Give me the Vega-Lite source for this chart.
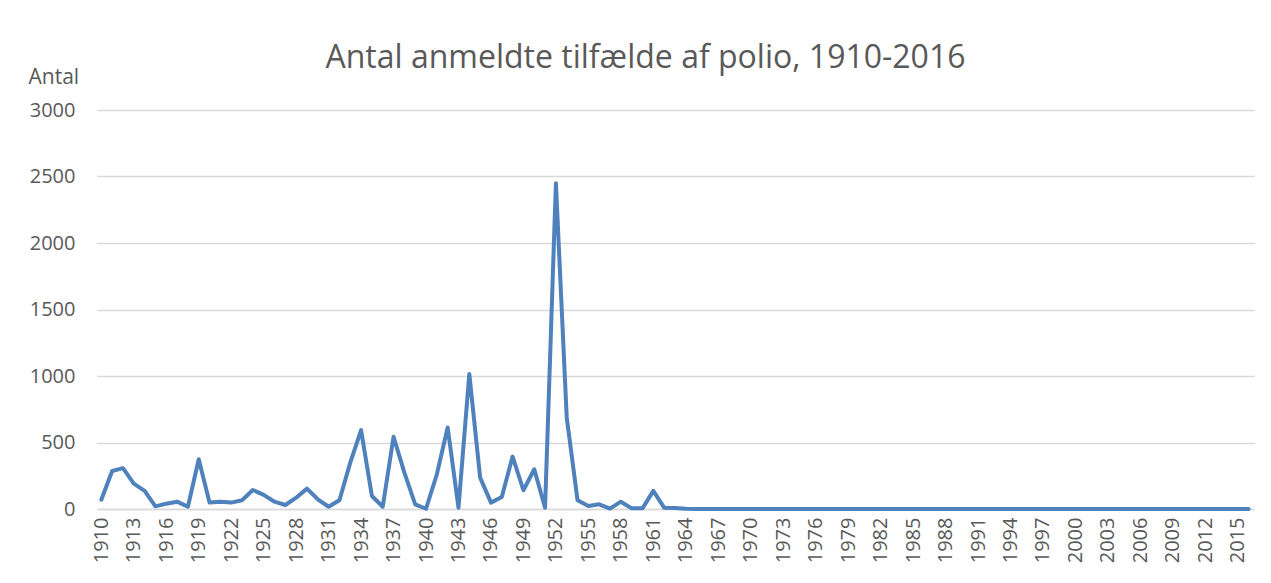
{
  "$schema": "https://vega.github.io/schema/vega-lite/v6.json",
  "autosize": {"type": "none"},
  "width": 1157,
  "height": 399,
  "padding": {"left": 97, "top": 110, "right": 17, "bottom": 74},
  "background": "white",
  "title": {
    "text": "Antal anmeldte tilfælde af polio, 1910-2016",
    "font": "Open Sans",
    "fontSize": 32,
    "fontWeight": "normal",
    "color": "#595959",
    "anchor": "middle",
    "dx": -30,
    "offset": -9
  },
  "config": {
    "view": {"stroke": null},
    "axis": {"labelFont": "Open Sans", "titleFont": "Open Sans", "labelColor": "#595959", "titleColor": "#595959"}
  },
  "data": {
    "values": [
      {"year": 1910, "cases": 70}, {"year": 1911, "cases": 286}, {"year": 1912, "cases": 307}, {"year": 1913, "cases": 191},
      {"year": 1914, "cases": 136}, {"year": 1915, "cases": 20}, {"year": 1916, "cases": 40}, {"year": 1917, "cases": 55},
      {"year": 1918, "cases": 17}, {"year": 1919, "cases": 374}, {"year": 1920, "cases": 48}, {"year": 1921, "cases": 55},
      {"year": 1922, "cases": 48}, {"year": 1923, "cases": 66}, {"year": 1924, "cases": 143}, {"year": 1925, "cases": 106},
      {"year": 1926, "cases": 55}, {"year": 1927, "cases": 30}, {"year": 1928, "cases": 85}, {"year": 1929, "cases": 153},
      {"year": 1930, "cases": 73}, {"year": 1931, "cases": 17}, {"year": 1932, "cases": 66}, {"year": 1933, "cases": 349},
      {"year": 1934, "cases": 593}, {"year": 1935, "cases": 98}, {"year": 1936, "cases": 17}, {"year": 1937, "cases": 543},
      {"year": 1938, "cases": 274}, {"year": 1939, "cases": 35}, {"year": 1940, "cases": 2}, {"year": 1941, "cases": 261},
      {"year": 1942, "cases": 613}, {"year": 1943, "cases": 10}, {"year": 1944, "cases": 1015}, {"year": 1945, "cases": 236},
      {"year": 1946, "cases": 48}, {"year": 1947, "cases": 90}, {"year": 1948, "cases": 394}, {"year": 1949, "cases": 141},
      {"year": 1950, "cases": 299}, {"year": 1951, "cases": 10}, {"year": 1952, "cases": 2450}, {"year": 1953, "cases": 688},
      {"year": 1954, "cases": 66}, {"year": 1955, "cases": 23}, {"year": 1956, "cases": 35}, {"year": 1957, "cases": 3},
      {"year": 1958, "cases": 55}, {"year": 1959, "cases": 5}, {"year": 1960, "cases": 5}, {"year": 1961, "cases": 136},
      {"year": 1962, "cases": 10}, {"year": 1963, "cases": 8}, {"year": 1964, "cases": 2}, {"year": 1965, "cases": 0},
      {"year": 1966, "cases": 0}, {"year": 1967, "cases": 0}, {"year": 1968, "cases": 0}, {"year": 1969, "cases": 0},
      {"year": 1970, "cases": 0}, {"year": 1971, "cases": 0}, {"year": 1972, "cases": 0}, {"year": 1973, "cases": 0},
      {"year": 1974, "cases": 0}, {"year": 1975, "cases": 0}, {"year": 1976, "cases": 0}, {"year": 1977, "cases": 0},
      {"year": 1978, "cases": 0}, {"year": 1979, "cases": 0}, {"year": 1980, "cases": 0}, {"year": 1981, "cases": 0},
      {"year": 1982, "cases": 0}, {"year": 1983, "cases": 0}, {"year": 1984, "cases": 0}, {"year": 1985, "cases": 0},
      {"year": 1986, "cases": 0}, {"year": 1987, "cases": 0}, {"year": 1988, "cases": 0}, {"year": 1989, "cases": 0},
      {"year": 1990, "cases": 0}, {"year": 1991, "cases": 0}, {"year": 1992, "cases": 0}, {"year": 1993, "cases": 0},
      {"year": 1994, "cases": 0}, {"year": 1995, "cases": 0}, {"year": 1996, "cases": 0}, {"year": 1997, "cases": 0},
      {"year": 1998, "cases": 0}, {"year": 1999, "cases": 0}, {"year": 2000, "cases": 0}, {"year": 2001, "cases": 0},
      {"year": 2002, "cases": 0}, {"year": 2003, "cases": 0}, {"year": 2004, "cases": 0}, {"year": 2005, "cases": 0},
      {"year": 2006, "cases": 0}, {"year": 2007, "cases": 0}, {"year": 2008, "cases": 0}, {"year": 2009, "cases": 0},
      {"year": 2010, "cases": 0}, {"year": 2011, "cases": 0}, {"year": 2012, "cases": 0}, {"year": 2013, "cases": 0},
      {"year": 2014, "cases": 0}, {"year": 2015, "cases": 0}, {"year": 2016, "cases": 0}
    ]
  },
  "mark": {"type": "line", "color": "#4f81bd", "strokeWidth": 4, "strokeJoin": "round", "strokeCap": "round"},
  "encoding": {
    "x": {
      "field": "year",
      "type": "quantitative",
      "scale": {"domain": [1909.6, 2016.5], "nice": false, "zero": false},
      "axis": {
        "title": null,
        "values": [1910, 1913, 1916, 1919, 1922, 1925, 1928, 1931, 1934, 1937, 1940, 1943, 1946, 1949, 1952, 1955, 1958, 1961, 1964, 1967, 1970, 1973, 1976, 1979, 1982, 1985, 1988, 1991, 1994, 1997, 2000, 2003, 2006, 2009, 2012, 2015],
        "format": "d",
        "labelAngle": 270,
        "labelFontSize": 20,
        "labelPadding": 8,
        "labelOverlap": false,
        "labelFlush": false,
        "grid": false,
        "ticks": false,
        "domainColor": "#d9d9d9",
        "domainWidth": 1.3
      }
    },
    "y": {
      "field": "cases",
      "type": "quantitative",
      "scale": {"domain": [0, 3000], "nice": false},
      "axis": {
        "title": "Antal",
        "titleAngle": 0,
        "titleAlign": "left",
        "titleBaseline": "alphabetic",
        "titleX": -69,
        "titleY": -27,
        "titleFontSize": 21,
        "titleFontWeight": "normal",
        "values": [0, 500, 1000, 1500, 2000, 2500, 3000],
        "format": "d",
        "labelFontSize": 20,
        "labelPadding": 22,
        "domain": false,
        "ticks": false,
        "gridColor": "#d9d9d9",
        "gridWidth": 1.3
      }
    }
  }
}
